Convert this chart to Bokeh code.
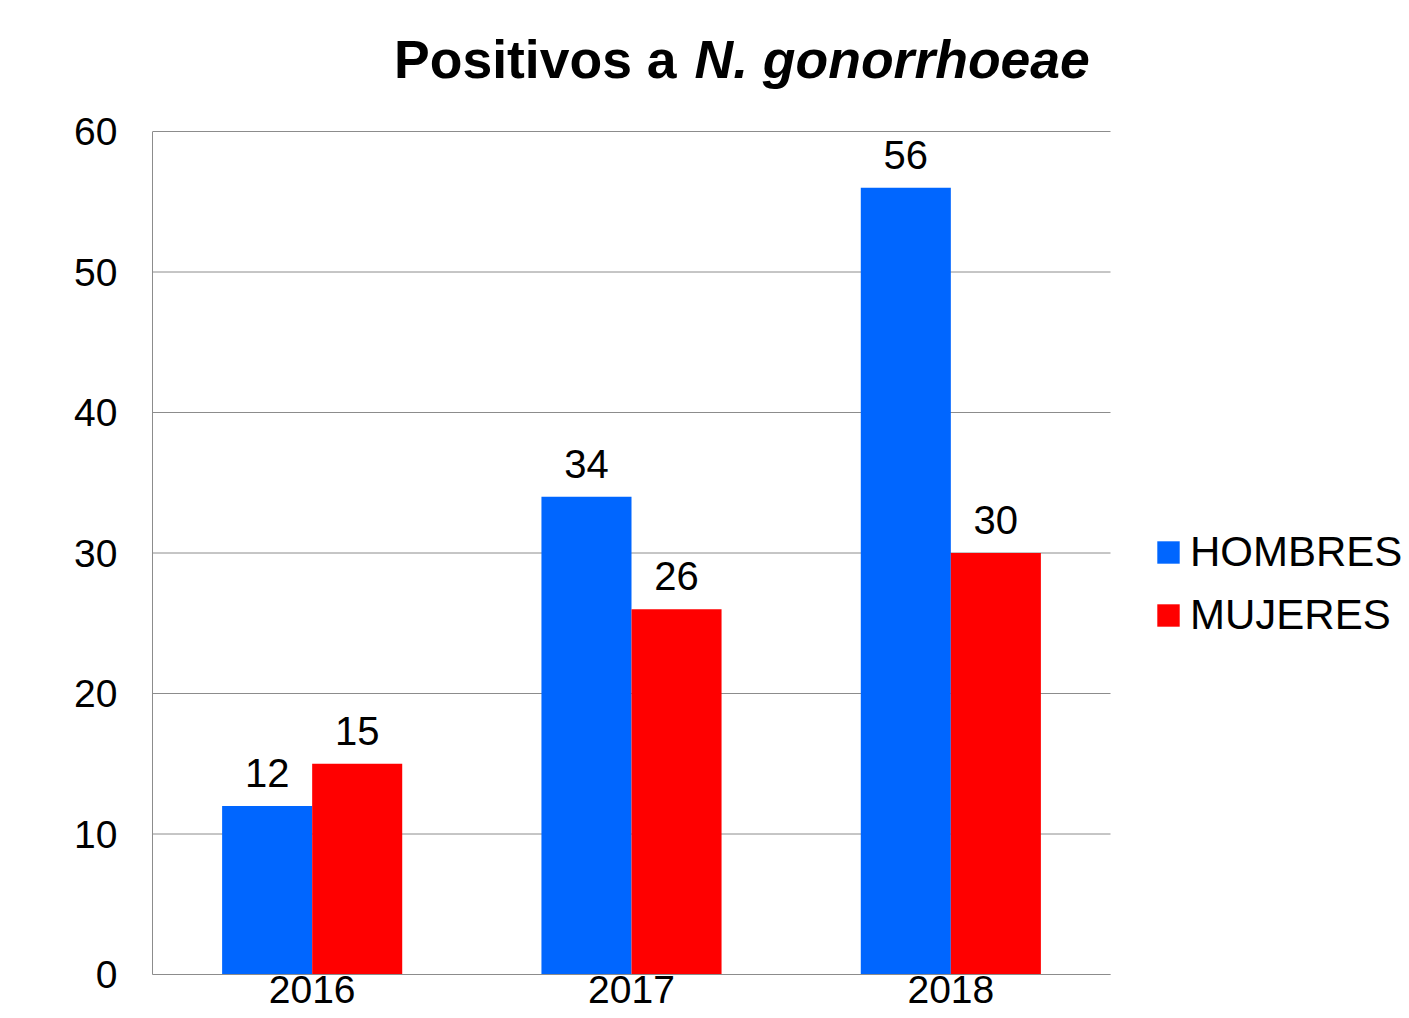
from bokeh.plotting import figure
from bokeh.models import ColumnDataSource, Legend, LegendItem, FixedTicker, Range1d
from bokeh.transform import dodge
from bokeh.embed import file_html
from bokeh.resources import INLINE
from bokeh.core.properties import value

years = ["2016", "2017", "2018"]
hombres = [12, 34, 56]
mujeres = [15, 26, 30]
y_ticks = [0, 10, 20, 30, 40, 50, 60]
series_names = ["HOMBRES", "MUJERES"]
title_plain = "Positivos a"
title_italic = "N. gonorrhoeae"

BLUE = "#0066ff"
RED = "#ff0000"
GRAY = "#8c8c8c"
FONT = "Liberation Sans"

# layout (pixels)
W, H = 1409, 1018
FRAME_L, PLOT_R = 152, 1110          # plot area spans 152..1110; frame runs on to the canvas edge for the legend
FRAME_TOP, FRAME_BOTTOM = 5, 974
Y60_PIX = 131
px_per_unit = (FRAME_BOTTOM - Y60_PIX) / y_ticks[-1]
y_end = y_ticks[-1] + (Y60_PIX - FRAME_TOP) / px_per_unit
n = len(years)
x_end = n * (W - FRAME_L) / (PLOT_R - FRAME_L)

xpos = [i + 0.5 for i in range(n)]
src = ColumnDataSource(dict(
    xpos=xpos, hombres=hombres, mujeres=mujeres,
    h_txt=[str(v) for v in hombres], m_txt=[str(v) for v in mujeres],
))

p = figure(x_range=Range1d(0, x_end), y_range=Range1d(0, y_end), width=W, height=H,
           output_backend="svg", toolbar_location=None,
           min_border_left=FRAME_L, min_border_right=0,
           min_border_top=FRAME_TOP, min_border_bottom=H - FRAME_BOTTOM)
p.outline_line_color = None
p.background_fill_color = "white"
p.border_fill_color = "white"
p.xgrid.visible = False
p.ygrid.visible = False

# horizontal gridlines across the category span only
p.segment(x0=0, x1=n, y0=y_ticks, y1=y_ticks, line_color=GRAY, line_width=1)

bw = 0.282
r1 = p.vbar(x=dodge("xpos", -bw / 2), top="hombres", width=bw, source=src,
            fill_color=BLUE, line_color=None)
r2 = p.vbar(x=dodge("xpos", bw / 2), top="mujeres", width=bw, source=src,
            fill_color=RED, line_color=None)

p.text(x=dodge("xpos", -bw / 2), y="hombres", text="h_txt", source=src,
       text_align="center", text_baseline="middle", y_offset=-33,
       text_font=value(FONT), text_font_size="40px", text_color="black")
p.text(x=dodge("xpos", bw / 2), y="mujeres", text="m_txt", source=src,
       text_align="center", text_baseline="middle", y_offset=-33,
       text_font=value(FONT), text_font_size="40px", text_color="black")

# title: two text runs anchored on the middle category, above the 60 gridline
tsrc = ColumnDataSource(dict(x=[xpos[1]], y=[y_ticks[-1]], a=[title_plain], b=[title_italic]))
p.text(x="x", y="y", text="a", source=tsrc, x_offset=45, y_offset=-72,
       text_align="right", text_baseline="middle",
       text_font=value(FONT), text_font_size="53.5px", text_font_style="bold", text_color="black")
p.text(x="x", y="y", text="b", source=tsrc, x_offset=63, y_offset=-72,
       text_align="left", text_baseline="middle",
       text_font=value(FONT), text_font_size="53.5px", text_font_style="bold italic", text_color="black")

# axes
p.yaxis.ticker = FixedTicker(ticks=y_ticks)
p.yaxis.bounds = (y_ticks[0], y_ticks[-1])
p.yaxis.major_tick_out = 0
p.yaxis.major_tick_in = 0
p.yaxis.minor_tick_out = 0
p.yaxis.minor_tick_in = 0
p.yaxis.major_label_standoff = 35
p.yaxis.major_label_text_font = FONT
p.yaxis.major_label_text_font_size = "39px"
p.yaxis.major_label_text_color = "black"
p.yaxis.axis_line_color = GRAY

p.xaxis.ticker = FixedTicker(ticks=xpos)
p.xaxis.major_label_overrides = {x: y for x, y in zip(xpos, years)}
p.xaxis.bounds = (0, n)
p.xaxis.major_tick_out = 0
p.xaxis.major_tick_in = 0
p.xaxis.minor_tick_out = 0
p.xaxis.minor_tick_in = 0
p.xaxis.major_label_standoff = 1
p.xaxis.major_label_text_font = FONT
p.xaxis.major_label_text_font_size = "39px"
p.xaxis.major_label_text_color = "black"
p.xaxis.axis_line_color = GRAY

# legend to the right of the plot area
legend = Legend(items=[LegendItem(label=series_names[0], renderers=[r1]),
                       LegendItem(label=series_names[1], renderers=[r2])],
                location=(1002, 335), orientation="vertical")
legend.glyph_width = 28
legend.glyph_height = 28
legend.label_standoff = 8
legend.label_text_font = FONT
legend.label_text_font_size = "42px"
legend.label_text_color = "black"
legend.spacing = 15
legend.padding = 0
legend.margin = 0
legend.border_line_color = None
legend.background_fill_alpha = 0
p.add_layout(legend, "center")

open("out.html", "w").write(file_html(p, INLINE))
